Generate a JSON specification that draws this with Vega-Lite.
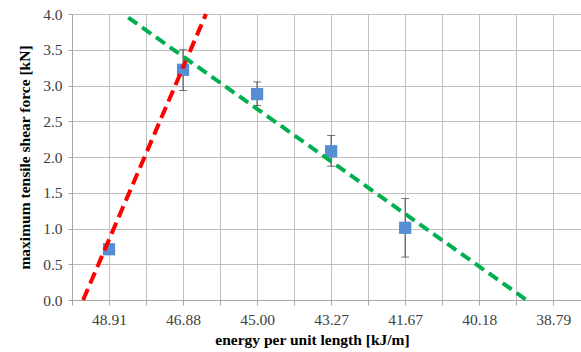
{
  "$schema": "https://vega.github.io/schema/vega-lite/v6.json",
  "width": 509,
  "height": 286,
  "autosize": "none",
  "padding": {"left": 72, "top": 14, "right": 0, "bottom": 52},
  "background": "white",
  "config": {"view": {"stroke": null}, "font": "Liberation Serif"},
  "datasets": {
    "points": [
      {"idx": 1, "energy": "48.91", "force": 0.71, "lo": 0.66, "hi": 0.76},
      {"idx": 2, "energy": "46.88", "force": 3.22, "lo": 2.93, "hi": 3.5},
      {"idx": 3, "energy": "45.00", "force": 2.88, "lo": 2.72, "hi": 3.05},
      {"idx": 4, "energy": "43.27", "force": 2.08, "lo": 1.87, "hi": 2.3},
      {"idx": 5, "energy": "41.67", "force": 1.01, "lo": 0.6, "hi": 1.42}
    ],
    "trend": [
      {"series": "red", "idx": 0.65, "force": 0.0},
      {"series": "red", "idx": 2.31, "force": 4.0},
      {"series": "green", "idx": 1.26, "force": 3.95},
      {"series": "green", "idx": 6.64, "force": 0.0}
    ]
  },
  "layer": [
    {
      "data": {"name": "points"},
      "mark": {"type": "errorbar", "ticks": {"size": 8, "color": "#404040"}, "rule": {"color": "#404040", "strokeWidth": 1}},
      "encoding": {
        "x": {
          "field": "idx", "type": "quantitative",
          "scale": {"domain": [0.5, 7.375], "nice": false, "zero": false},
          "axis": {
            "values": [0.5, 1, 1.5, 2, 2.5, 3, 3.5, 4, 4.5, 5, 5.5, 6, 6.5, 7],
            "tickCount": 40,
            "labelOverlap": false,
            "labelExpr": "datum.value % 1 == 0 ? ['','48.91','46.88','45.00','43.27','41.67','40.18','38.79'][datum.value] : ''",
            "title": "energy per unit length [kJ/m]",
            "titleFontSize": 15.5, "titleFontWeight": "bold", "titleColor": "#000000",
            "titleX": 240, "titlePadding": 5,
            "labelFontSize": 15.5, "labelColor": "#404040", "labelPadding": 7,
            "labelFlush": false,
            "tickSize": 5, "tickColor": "#a6a6a6",
            "domainColor": "#a6a6a6",
            "grid": true, "gridColor": "#bfbfbf", "gridWidth": 1
          }
        },
        "y": {
          "field": "lo", "type": "quantitative",
          "scale": {"domain": [0, 4], "nice": false},
          "axis": {
            "values": [0, 0.5, 1, 1.5, 2, 2.5, 3, 3.5, 4],
            "tickCount": 40,
            "labelOverlap": false,
            "format": ".1f",
            "title": "maximum tensile shear force [kN]",
            "titleFontSize": 15.5, "titleFontWeight": "bold", "titleColor": "#000000",
            "titlePadding": 10,
            "labelFontSize": 15.5, "labelColor": "#404040", "labelPadding": 6,
            "labelFlush": false,
            "tickSize": 4, "tickColor": "#a6a6a6",
            "domainColor": "#a6a6a6",
            "grid": true, "gridColor": "#bfbfbf", "gridWidth": 1
          }
        },
        "y2": {"field": "hi"}
      }
    },
    {
      "data": {"name": "points"},
      "mark": {"type": "square", "size": 150, "color": "#558ED5", "opacity": 1},
      "encoding": {
        "x": {"field": "idx", "type": "quantitative"},
        "y": {"field": "force", "type": "quantitative"}
      }
    },
    {
      "data": {"name": "trend"},
      "transform": [{"filter": "datum.series == 'red'"}],
      "mark": {"type": "line", "color": "#ff0000", "strokeWidth": 4, "strokeDash": [12, 6]},
      "encoding": {
        "x": {"field": "idx", "type": "quantitative"},
        "y": {"field": "force", "type": "quantitative"}
      }
    },
    {
      "data": {"name": "trend"},
      "transform": [{"filter": "datum.series == 'green'"}],
      "mark": {"type": "line", "color": "#00b050", "strokeWidth": 4, "strokeDash": [11, 6]},
      "encoding": {
        "x": {"field": "idx", "type": "quantitative"},
        "y": {"field": "force", "type": "quantitative"}
      }
    }
  ]
}
